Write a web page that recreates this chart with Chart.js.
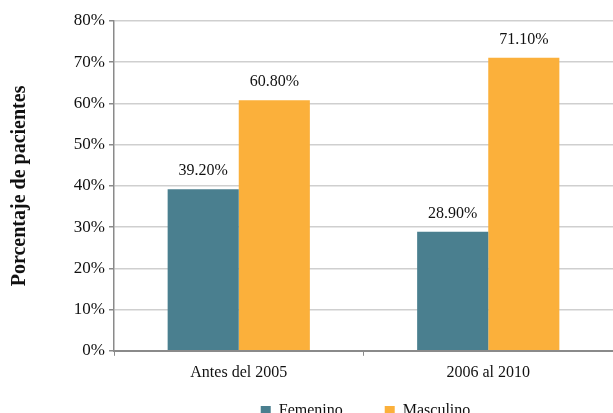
<!DOCTYPE html>
<html>
<head>
<meta charset="utf-8">
<script src="https://cdn.jsdelivr.net/npm/chart.js@4/dist/chart.umd.min.js"></script>
<style>
  html, body { margin: 0; padding: 0; background: #fff; overflow: hidden; }
  #wrap { position: relative; width: 613px; height: 429px; }
</style>
</head>
<body>
<div id="wrap"><canvas id="chart"></canvas></div>
<script>
// Patients by sex across two periods (percent)
const periods = ['Antes del 2005', '2006 al 2010'];
const femenino = [39.2, 28.9];
const masculino = [60.8, 71.1];
const seriesNames = ['Femenino', 'Masculino'];
const yTicks = [0, 10, 20, 30, 40, 50, 60, 70, 80];

const serif = '"Liberation Serif", "Times New Roman", serif';
Chart.defaults.font.family = serif;
Chart.defaults.color = '#111';

// Writes each bar's value above it
const valueLabels = {
  id: 'valueLabels',
  afterDatasetsDraw(chart) {
    const ctx = chart.ctx;
    ctx.save();
    ctx.font = '16px ' + serif;
    ctx.fillStyle = '#111';
    ctx.textAlign = 'center';
    ctx.textBaseline = 'middle';
    chart.data.datasets.forEach((ds, i) => {
      chart.getDatasetMeta(i).data.forEach((bar, j) => {
        ctx.fillText(ds.data[j].toFixed(2) + '%', bar.x, bar.y - 18);
      });
    });
    ctx.restore();
  }
};

// Centres the legend under the plot area rather than the whole canvas
const legendUnderPlot = {
  id: 'legendUnderPlot',
  afterLayout(chart) {
    const lg = chart.legend;
    if (!lg) return;
    const shift = (chart.chartArea.left + chart.chartArea.right) / 2 - (lg.left + lg.right) / 2 + 2;
    lg.left += shift;
    lg.right += shift;
  }
};

new Chart(document.getElementById('chart'), {
  type: 'bar',
  data: {
    labels: periods,
    datasets: [
      { label: seriesNames[0], data: femenino, backgroundColor: '#4A7F8F', barPercentage: 1, categoryPercentage: 0.57 },
      { label: seriesNames[1], data: masculino, backgroundColor: '#FBB03B', barPercentage: 1, categoryPercentage: 0.57 }
    ]
  },
  options: {
    responsive: true,
    maintainAspectRatio: false,
    animation: false,
    layout: { padding: { top: 21, right: 0, left: 0, bottom: 0 } },
    plugins: {
      tooltip: { enabled: false },
      legend: {
        position: 'bottom',
        labels: {
          boxWidth: 10,
          boxHeight: 10,
          padding: 14,
          color: '#111',
          font: { family: serif, size: 16 },
          generateLabels(chart) {
            const items = Chart.defaults.plugins.legend.labels.generateLabels(chart);
            items.forEach((it, i) => { if (i === 0) it.text = it.text + '\u2003\u2002\u2005'; });
            return items;
          }
        }
      }
    },
    scales: {
      x: {
        grid: { display: true, drawOnChartArea: false, drawTicks: true, tickLength: 5, color: '#8a8a8a', offset: true },
        border: { color: '#8a8a8a', width: 2 },
        ticks: { color: '#111', font: { family: serif, size: 16 }, padding: 7 }
      },
      y: {
        min: 0,
        max: 80,
        afterBuildTicks(scale) { scale.ticks = yTicks.map(v => ({ value: v })); },
        afterFit(scale) { scale.width = 114; },
        grid: { color: '#cfcfcf', tickColor: '#8a8a8a', tickLength: 5, lineWidth: 1.5 },
        border: { color: '#8a8a8a', width: 1.5 },
        ticks: { color: '#111', font: { family: serif, size: 17 }, padding: 4, callback: v => v + '%' },
        title: {
          display: true,
          text: 'Porcentaje de pacientes',
          color: '#111',
          font: { family: serif, size: 20, weight: 'bold' },
          padding: { top: 8, bottom: 0 }
        }
      }
    }
  },
  plugins: [valueLabels, legendUnderPlot]
});
</script>
</body>
</html>
